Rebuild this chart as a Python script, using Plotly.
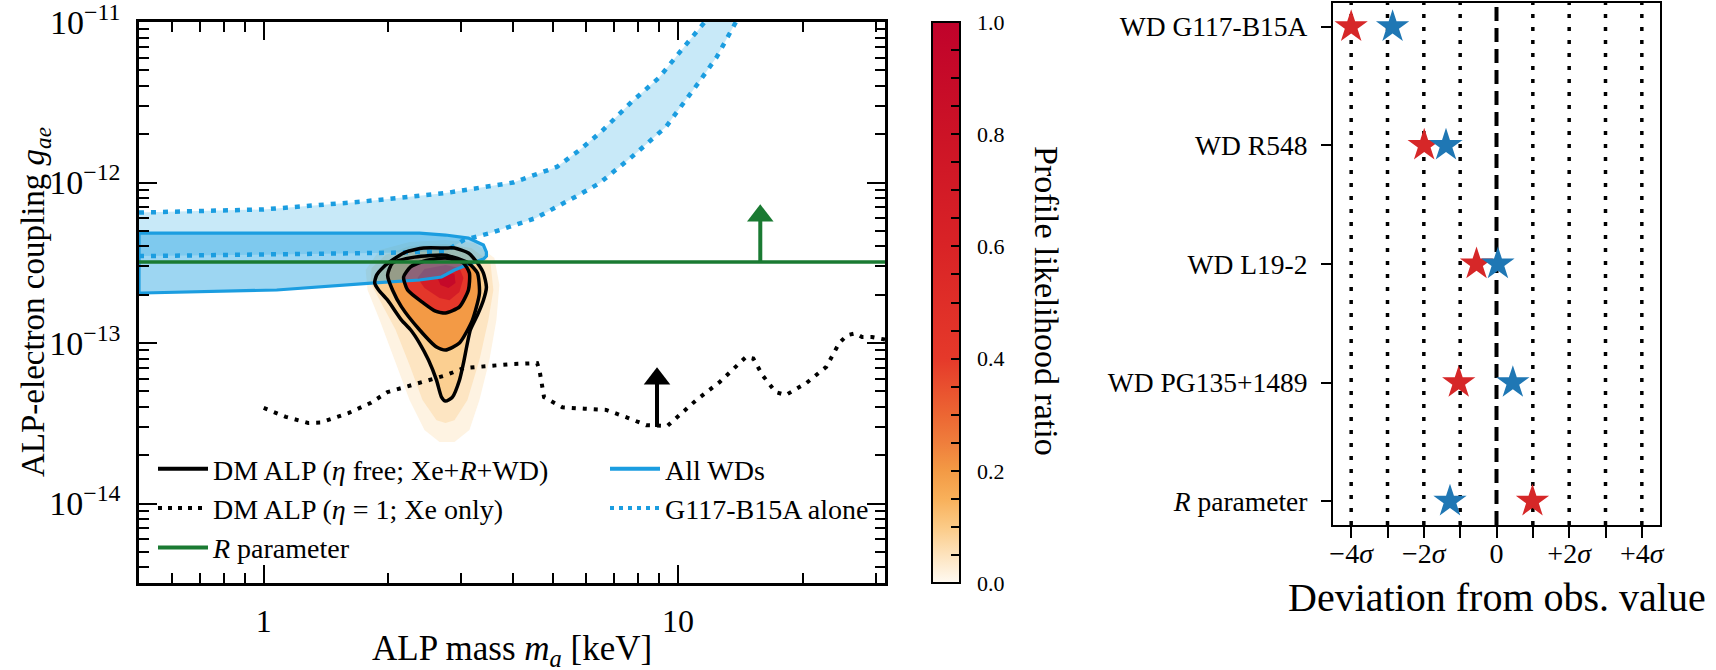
import math
import plotly.graph_objects as go
from plotly.colors import sample_colorscale

# ---------------- Left panel data (ALP mass [keV], coupling g_ae) ----------------
m_range = [0.5, 31.6]
g_range = [3.2e-15, 1e-11]

g117_upper_m = [0.5, 1.0, 1.72, 2.75, 4.0, 5.1, 5.8, 6.56, 7.75, 9.0, 10.2, 11.6]
g117_upper_g = [6.5e-13, 6.8e-13, 7.6e-13, 8.6e-13, 1.0e-12, 1.25e-12, 1.6e-12, 2.1e-12, 3.2e-12, 4.5e-12, 6.7e-12, 1.0e-11]
g117_lower_m = [0.5, 1.0, 2.0, 2.75, 3.04, 3.53, 4.53, 5.78, 6.46, 7.75, 9.35, 11.2, 12.4, 13.8]
g117_lower_g = [3.48e-13, 3.55e-13, 3.65e-13, 3.74e-13, 4.38e-13, 4.85e-13, 6.0e-13, 8.4e-13, 9.9e-13, 1.45e-12, 2.22e-12, 4.17e-12, 6.05e-12, 1.0e-11]

allwd_m = [0.5, 1.0, 2.0, 2.377, 2.747, 3.12, 3.391, 3.448, 3.448, 3.391, 3.137, 2.887, 2.686, 2.377, 1.853, 1.075, 0.511, 0.5, 0.5]
allwd_g = [4.845e-13, 4.845e-13, 4.845e-13, 4.845e-13, 4.709e-13, 4.51e-13, 4.08e-13, 3.69e-13, 3.483e-13, 3.337e-13, 3.107e-13, 2.85e-13, 2.58e-13, 2.47e-13, 2.37e-13, 2.14e-13, 2.05e-13, 2.05e-13, 4.845e-13]

r_param_g = 3.2e-13
r_arrow_m = 15.8
r_arrow_head_g = 6.2e-13

xe_m = [1.0, 1.13, 1.28, 1.37, 1.6, 1.81, 1.99, 2.38, 2.75, 3.04, 3.52, 3.98, 4.57, 4.63, 4.75, 5.26, 5.94, 6.71, 7.59, 8.38,
        9.42, 10.07, 11.07, 12.6, 13.8, 14.6, 15.2, 16.0, 17.2, 18.2, 20.4, 22.8, 24.5, 25.6, 26.8, 27.8, 29.4, 31.6]
xe_g = [3.94e-14, 3.47e-14, 3.18e-14, 3.2e-14, 3.66e-14, 4.23e-14, 4.95e-14, 5.63e-14, 6.3e-14, 6.98e-14, 7.2e-14, 7.4e-14, 7.5e-14,
        6.8e-14, 4.6e-14, 3.98e-14, 3.9e-14, 3.83e-14, 3.41e-14, 3.08e-14, 3.04e-14, 3.56e-14, 4.41e-14, 5.71e-14, 7.1e-14, 8.2e-14,
        8.0e-14, 6.3e-14, 4.95e-14, 4.74e-14, 5.63e-14, 7.1e-14, 1.0e-13, 1.12e-13, 1.15e-13, 1.09e-13, 1.09e-13, 1.05e-13]
xe_arrow_m = 8.9
xe_arrow_base_g = 3.0e-14
xe_arrow_head_g = 6.0e-14

# confidence contours of the DM ALP fit (eta free)
c3_m = [2.747, 2.887, 3.12, 3.28, 3.391, 3.448, 3.391, 3.28, 3.155, 3.035, 2.968, 2.855, 2.747, 2.686, 2.613, 2.499, 2.377, 2.262,
        2.151, 1.991, 1.894, 1.853, 1.873, 1.947, 2.046, 2.2, 2.431, 2.747]
c3_g = [3.91e-13, 3.91e-13, 3.64e-13, 3.15e-13, 2.73e-13, 2.23e-13, 1.85e-13, 1.495e-13, 1.21e-13, 7.5e-14, 5.87e-14, 4.61e-14,
        4.35e-14, 4.61e-14, 5.87e-14, 7.83e-14, 1.0e-13, 1.21e-13, 1.39e-13, 1.85e-13, 2.14e-13, 2.37e-13, 2.65e-13, 2.98e-13,
        3.29e-13, 3.69e-13, 3.91e-13, 3.91e-13]
c2_m = [2.747, 3.12, 3.28, 3.317, 3.19, 2.968, 2.747, 2.613, 2.377, 2.151, 2.046, 1.991, 2.046, 2.312, 2.747]
c2_g = [3.53e-13, 3.15e-13, 2.73e-13, 2.05e-13, 1.39e-13, 1.0e-13, 9.04e-14, 9.44e-14, 1.21e-13, 1.68e-13, 2.14e-13, 2.65e-13,
        3.15e-13, 3.43e-13, 3.53e-13]
c1_m = [2.747, 3.035, 3.137, 3.12, 2.968, 2.747, 2.598, 2.431, 2.225, 2.176, 2.262, 2.444, 2.747]
c1_g = [3.39e-13, 3.15e-13, 2.73e-13, 2.14e-13, 1.68e-13, 1.54e-13, 1.58e-13, 1.775e-13, 2.14e-13, 2.58e-13, 2.98e-13, 3.243e-13, 3.39e-13]

# profile-likelihood iso-regions (filled)
halo_m = [2.747, 3.226, 3.604, 3.706, 3.645, 3.506, 3.317, 3.137, 2.887, 2.657, 2.444, 2.249, 2.07, 1.905, 1.781, 1.762, 1.905, 2.249]
halo_g = [4.383e-13, 4.199e-13, 3.39e-13, 2.3e-13, 1.39e-13, 7.83e-14, 4.415e-14, 2.871e-14, 2.416e-14, 2.416e-14, 2.871e-14,
          4.415e-14, 7.83e-14, 1.39e-13, 2.14e-13, 2.85e-13, 3.8e-13, 4.259e-13]
halo2_m = [2.747, 3.172, 3.525, 3.584, 3.486, 3.317, 3.103, 2.887, 2.747, 2.613, 2.417, 2.249, 2.081, 1.905, 1.811, 1.821, 1.969, 2.249]
halo2_g = [4.139e-13, 3.91e-13, 3.197e-13, 2.14e-13, 1.39e-13, 7.83e-14, 4.415e-14, 3.31e-14, 3.175e-14, 3.31e-14, 4.415e-14,
           7.29e-14, 1.21e-13, 1.85e-13, 2.37e-13, 2.93e-13, 3.53e-13, 4.022e-13]
core_m = [2.747, 2.968, 3.035, 2.968, 2.808, 2.657, 2.444, 2.351, 2.444]
core_g = [3.06e-13, 2.93e-13, 2.541e-13, 2.078e-13, 1.85e-13, 1.91e-13, 2.202e-13, 2.541e-13, 2.891e-13]
peak_m = [2.747, 2.887, 2.903, 2.793, 2.672, 2.627]
peak_g = [2.769e-13, 2.691e-13, 2.37e-13, 2.202e-13, 2.3e-13, 2.541e-13]

heat_regions = [  # (m, g, likelihood-ratio level)
    (halo_m, halo_g, 0.015),
    (halo2_m, halo2_g, 0.045),
    (c3_m, c3_g, 0.09),
    (c2_m, c2_g, 0.2),
    (c1_m, c1_g, 0.42),
    (core_m, core_g, 0.68),
    (peak_m, peak_g, 0.92),
]

x_major = [1, 10]
x_major_text = ["1", "10"]
x_minor = [0.6, 0.7, 0.8, 0.9, 2, 3, 4, 5, 6, 7, 8, 9, 20, 30]
y_major = [1e-14, 1e-13, 1e-12, 1e-11]
y_major_text = ["10<sup>−14</sup>", "10<sup>−13</sup>", "10<sup>−12</sup>", "10<sup>−11</sup>"]
y_minor = [4e-15, 5e-15, 6e-15, 7e-15, 8e-15, 9e-15,
           2e-14, 3e-14, 4e-14, 5e-14, 6e-14, 7e-14, 8e-14, 9e-14,
           2e-13, 3e-13, 4e-13, 5e-13, 6e-13, 7e-13, 8e-13, 9e-13,
           2e-12, 3e-12, 4e-12, 5e-12, 6e-12, 7e-12, 8e-12, 9e-12]

cbar_tick_step = 0.05
cbar_label_every = 4

# ---------------- Right panel data ----------------
sources = ["WD G117-B15A", "WD R548", "WD L19-2", "WD PG135+1489", "<i>R</i> parameter"]
dev_red = [-4.0, -1.99, -0.55, -1.04, 0.99]
dev_blue = [-2.86, -1.39, 0.04, 0.45, -1.28]
sigma_lines = [-4, -3, -2, -1, 0, 1, 2, 3, 4]
sigma_major = [-4, -2, 0, 2, 4]
sigma_major_text = ["−4<i>σ</i>", "−2<i>σ</i>", "0", "+2<i>σ</i>", "+4<i>σ</i>"]
sigma_minor = [-3, -1, 1, 3]
sigma_range = [-4.5, 4.5]

# ---------------- styles ----------------
FONT = "Liberation Serif"
BLUE = "#1b9de0"
GREEN = "#1a7a32"
colorscale = [
    [0.00, "rgb(255,250,242)"], [0.05, "rgb(253,227,189)"], [0.10, "rgb(251,202,134)"],
    [0.15, "rgb(248,176,90)"], [0.20, "rgb(243,154,69)"], [0.25, "rgb(239,126,60)"],
    [0.30, "rgb(236,102,51)"], [0.40, "rgb(229,57,42)"], [0.60, "rgb(217,35,38)"],
    [0.80, "rgb(204,19,38)"], [1.00, "rgb(192,2,43)"],
]

W, H = 1716, 670
L_x0, L_x1, L_y0, L_y1 = 139, 885, 22, 583
R_x0, R_x1, R_y0, R_y1 = 1333, 1660, 3, 525


def px_dom_x(a, b):
    return [a / W, b / W]


def px_dom_y(top, bottom):
    return [1 - bottom / H, 1 - top / H]


fig = go.Figure()

# heat map regions
for mm, gg, lev in heat_regions:
    col = sample_colorscale(colorscale, [lev])[0]
    fig.add_trace(go.Scatter(x=mm + mm[:1], y=gg + gg[:1], mode="lines", fill="toself", fillcolor=col,
                             line=dict(width=0, color=col), hoverinfo="skip", showlegend=False))

# G117-B15A band
fig.add_trace(go.Scatter(x=g117_upper_m + g117_lower_m[::-1], y=g117_upper_g + g117_lower_g[::-1], mode="lines",
                         fill="toself", fillcolor="rgba(27,161,226,0.24)", line=dict(width=0),
                         hoverinfo="skip", showlegend=False))
# All WDs
fig.add_trace(go.Scatter(x=allwd_m, y=allwd_g, mode="lines", fill="toself", fillcolor="rgba(27,161,226,0.43)",
                         line=dict(width=3.2, color=BLUE), hoverinfo="skip", showlegend=False))
for mm, gg in [(g117_upper_m, g117_upper_g), (g117_lower_m, g117_lower_g)]:
    fig.add_trace(go.Scatter(x=mm, y=gg, mode="lines", line=dict(width=4.5, color=BLUE, dash="5px,7px"),
                             hoverinfo="skip", showlegend=False))

# contours
for mm, gg in [(c3_m, c3_g), (c2_m, c2_g), (c1_m, c1_g)]:
    fig.add_trace(go.Scatter(x=mm, y=gg, mode="lines", line=dict(width=3.5, color="black", shape="spline", smoothing=0.6),
                             hoverinfo="skip", showlegend=False))

# R parameter
fig.add_trace(go.Scatter(x=m_range, y=[r_param_g, r_param_g], mode="lines", line=dict(width=3.5, color=GREEN),
                         hoverinfo="skip", showlegend=False))
fig.add_trace(go.Scatter(x=[r_arrow_m, r_arrow_m], y=[r_param_g, r_arrow_head_g], mode="lines",
                         line=dict(width=4, color=GREEN), hoverinfo="skip", showlegend=False))
fig.add_trace(go.Scatter(x=[r_arrow_m], y=[r_arrow_head_g], mode="markers",
                         marker=dict(symbol="triangle-up", size=23, color=GREEN, line=dict(width=0)),
                         hoverinfo="skip", showlegend=False))

# Xe only
fig.add_trace(go.Scatter(x=xe_m, y=xe_g, mode="lines", line=dict(width=4, color="black", dash="4px,7px"),
                         hoverinfo="skip", showlegend=False))
fig.add_trace(go.Scatter(x=[xe_arrow_m, xe_arrow_m], y=[xe_arrow_base_g, xe_arrow_head_g], mode="lines",
                         line=dict(width=4, color="black"), hoverinfo="skip", showlegend=False))
fig.add_trace(go.Scatter(x=[xe_arrow_m], y=[xe_arrow_head_g], mode="markers",
                         marker=dict(symbol="triangle-up", size=23, color="black", line=dict(width=0)),
                         hoverinfo="skip", showlegend=False))

# colorbar carrier (points outside visible range)
fig.add_trace(go.Scatter(
    x=[0.1, 0.1], y=[1e-13, 1e-13], mode="markers", hoverinfo="skip", showlegend=False,
    marker=dict(size=1, color=[0, 1], cmin=0, cmax=1, colorscale=colorscale, showscale=True,
                colorbar=dict(x=932 / W, xanchor="left", xref="paper", y=1 - L_y1 / H, yanchor="bottom",
                              len=(L_y1 - L_y0) / H, lenmode="fraction", thickness=28, thicknessmode="pixels",
                              xpad=0, ypad=0, outlinewidth=2, outlinecolor="black",
                              tickmode="linear", tick0=0, dtick=cbar_tick_step, ticklabelstep=cbar_label_every,
                              tickformat=".1f", tickprefix="\u2002", ticks="inside",
                              ticklen=10, tickwidth=2, tickcolor="black",
                              tickfont=dict(size=22, family=FONT, color="black")))))

# legend entries
leg_items = [
    ("DM ALP (<i>η</i> free; Xe+<i>R</i>+WD)", dict(width=4, color="black"), "legend"),
    ("DM ALP (<i>η</i> = 1; Xe only)", dict(width=4, color="black", dash="4px,6px"), "legend"),
    ("<i>R</i> parameter", dict(width=4, color=GREEN), "legend"),
    ("All WDs", dict(width=4, color=BLUE), "legend2"),
    ("G117-B15A alone", dict(width=4, color=BLUE, dash="4px,5px"), "legend2"),
]
for name, ln, lg in leg_items:
    fig.add_trace(go.Scatter(x=[None], y=[None], mode="lines", name=name, line=ln, legend=lg))

# right panel
fig.add_trace(go.Scatter(x=dev_red, y=sources, mode="markers", xaxis="x2", yaxis="y2",
                         marker=dict(symbol="star", size=25, color="#d62728", line=dict(width=0)),
                         hoverinfo="skip", showlegend=False))
fig.add_trace(go.Scatter(x=dev_blue, y=sources, mode="markers", xaxis="x2", yaxis="y2",
                         marker=dict(symbol="star", size=25, color="#1f77b4", line=dict(width=0)),
                         hoverinfo="skip", showlegend=False))

shapes = []
for s in sigma_lines:
    shapes.append(dict(type="line", xref="x2", yref="y2 domain", x0=s, x1=s, y0=0, y1=1, layer="below",
                       line=dict(color="black", width=4 if s == 0 else 3.5, dash="14px,7px" if s == 0 else "4px,9px")))

annotations = [
    dict(text="ALP mass <i>m<sub>a</sub></i> [keV]", x=(L_x0 + L_x1) / 2 / W, y=1 - 650 / H, xref="paper", yref="paper",
         showarrow=False, xanchor="center", yanchor="middle", font=dict(size=35, family=FONT, color="black")),
    dict(text="ALP-electron coupling <i>g<sub>ae</sub></i>", x=35 / W, y=1 - 302 / H, xref="paper", yref="paper",
         showarrow=False, textangle=-90, xanchor="center", yanchor="middle", font=dict(size=33, family=FONT, color="black")),
    dict(text="Profile likelihood ratio", x=1047 / W, y=1 - 301 / H, xref="paper", yref="paper",
         showarrow=False, textangle=90, xanchor="center", yanchor="middle", font=dict(size=34, family=FONT, color="black")),
    dict(text="Deviation from obs. value", x=(R_x0 + R_x1) / 2 / W, y=1 - 597 / H, xref="paper", yref="paper",
         showarrow=False, xanchor="center", yanchor="middle", font=dict(size=40, family=FONT, color="black")),
]

log_axis_common = dict(type="log", showgrid=False, zeroline=False, showline=True, linewidth=2.5, linecolor="black",
                       mirror="ticks", ticks="inside", ticklen=18, tickwidth=2, tickcolor="black",
                       tickmode="array", ticklabeloverflow="allow")

eps = 1e-4  # keep the end-of-range decade ticks inside the axis range
fig.update_layout(
    width=W, height=H, margin=dict(l=0, r=0, t=0, b=0, autoexpand=False),
    paper_bgcolor="white", plot_bgcolor="white",
    font=dict(family=FONT, color="black"),
    showlegend=True,
    legend=dict(x=153 / W, y=1 - 444 / H, xanchor="left", yanchor="top", orientation="v", bgcolor="rgba(0,0,0,0)",
                font=dict(size=28, family=FONT, color="black"), itemwidth=50, tracegroupgap=0),
    legend2=dict(x=605 / W, y=1 - 444 / H, xanchor="left", yanchor="top", orientation="v", bgcolor="rgba(0,0,0,0)",
                 font=dict(size=28, family=FONT, color="black"), itemwidth=50, tracegroupgap=0),
    xaxis=dict(domain=px_dom_x(L_x0, L_x1), anchor="y", range=[math.log10(m_range[0]), math.log10(m_range[1])],
               tickvals=x_major, ticktext=x_major_text, ticklabelstandoff=8,
               tickfont=dict(size=32, family=FONT, color="black"),
               minor=dict(tickvals=x_minor, ticks="inside", ticklen=10, tickwidth=1.8, tickcolor="black", showgrid=False),
               **log_axis_common),
    yaxis=dict(domain=px_dom_y(L_y0, L_y1), anchor="x",
               range=[math.log10(g_range[0]), math.log10(g_range[1]) + eps],
               tickvals=y_major, ticktext=y_major_text, ticklabelstandoff=9,
               tickfont=dict(size=34, family=FONT, color="black"),
               minor=dict(tickvals=y_minor, ticks="inside", ticklen=10, tickwidth=1.8, tickcolor="black", showgrid=False),
               **log_axis_common),
    xaxis2=dict(domain=px_dom_x(R_x0, R_x1), anchor="y2", range=sigma_range, showgrid=False, zeroline=False,
                showline=True, linewidth=2.2, linecolor="black", mirror=True, ticks="outside", ticklen=11,
                tickwidth=2, tickcolor="black", tickmode="array", tickvals=sigma_major, ticktext=sigma_major_text,
                minor=dict(tickvals=sigma_minor, ticks="outside", ticklen=11, tickwidth=2, tickcolor="black", showgrid=False),
                tickfont=dict(size=28, family=FONT, color="black"), ticklabelstandoff=-9),
    yaxis2=dict(domain=px_dom_y(R_y0, R_y1), anchor="x2", type="category", categoryorder="array",
                categoryarray=sources[::-1], range=[-0.2, 4.2], showgrid=False, zeroline=False,
                showline=True, linewidth=2.2, linecolor="black", mirror=True, ticks="outside", ticklen=10,
                tickwidth=2, tickcolor="black", tickfont=dict(size=27.5, family=FONT, color="black"),
                ticklabelstandoff=8),
    shapes=shapes,
    annotations=annotations,
)

fig.write_html("out.html")
